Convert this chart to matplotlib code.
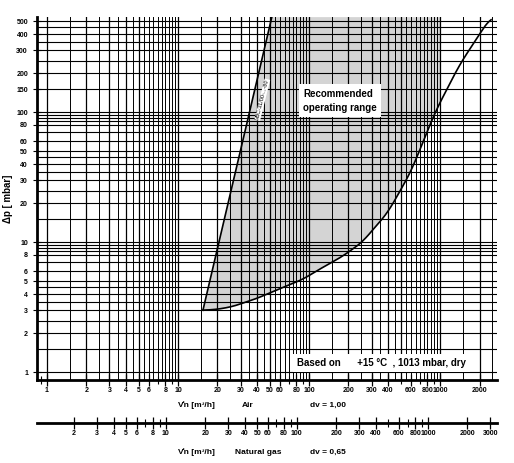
import matplotlib
matplotlib.use("Agg")
import matplotlib.pyplot as plt
import numpy as np

# data
left_x = [15.5, 52]
left_y = [3.0, 540]
curve_x = [15.5, 20, 26, 40, 60, 90, 120, 180, 254, 400, 600, 915, 1400, 2000, 2450]
curve_y = [3.0, 3.05, 3.2, 3.7, 4.4, 5.2, 6.2, 7.8, 10, 17, 35, 100, 230, 400, 540]
fill_right = 1000
y_labels = [1, 2, 3, 4, 5, 6, 8, 10, 20, 30, 40, 50, 60, 80, 100, 150, 200, 300, 400, 500]
air_labels = [1, 2, 3, 4, 5, 6, 8, 10, 20, 30, 40, 50, 60, 80, 100, 200, 300, 400, 600, 800, 1000, 2000]
gas_labels = [2, 3, 4, 5, 6, 8, 10, 20, 30, 40, 50, 60, 80, 100, 200, 300, 400, 600, 800, 1000, 2000, 3000]
dv_gas = 0.65

plt.rcParams['font.family'] = ['Liberation Sans', 'DejaVu Sans']
fig = plt.figure(figsize=(5.14, 4.63), dpi=100)
ax = fig.add_axes([0.072, 0.179, 0.895, 0.784])
ax.set_xscale('log'); ax.set_yscale('log')
ax.set_xlim(0.84, 2720); ax.set_ylim(0.87, 540)

mult_x = [1, 1.5, 2, 2.5, 3, 3.5, 4, 4.5, 5, 5.5, 6, 6.5, 7, 7.5, 8, 8.5, 9, 9.5]
mult_y = [1, 1.5, 2, 2.5, 3, 3.5, 4, 4.5, 5, 6, 7, 8, 8.5, 9, 9.5]
for d in [1, 10, 100, 1000]:
    for m in mult_x:
        v = d * m
        if v <= 2720:
            ax.axvline(v, color='black', lw=0.9 if m in (1, 2, 3, 4, 5) else 0.7, zorder=1)
for d in [1, 10, 100]:
    for m in mult_y:
        v = d * m
        if v <= 540:
            ax.axhline(v, color='black', lw=0.8, zorder=1)

# smooth drawing of the read points (log-space interpolation for rendering only)
lx = np.log10(curve_x); ly = np.log10(curve_y)
sx = np.linspace(lx[0], lx[-1], 300)
sy = np.interp(sx, lx, ly)
k = np.ones(15) / 15
sy_s = np.convolve(np.pad(sy, 7, mode='edge'), k, mode='valid')
cx = 10 ** sx; cy = 10 ** sy_s
mask = cx <= fill_right
px = list(left_x) + [fill_right] + list(cx[mask][::-1])
py = list(left_y) + [left_y[1]] + list(cy[mask][::-1])
ax.fill(px, py, color='#d4d4d4', zorder=0.5, lw=0)
ax.plot(left_x, left_y, color='black', lw=1.2, zorder=3)
ax.plot(cx, cy, color='black', lw=1.2, zorder=3)

ax.text(44, 125, 'VBC-31/00-...-80', rotation=76, fontsize=4, ha='center', va='center',
        bbox=dict(facecolor='white', edgecolor='none', pad=0.3), zorder=4)
ax.text(0.578, 0.77, 'Recommended\noperating range', transform=ax.transAxes, fontsize=7,
        fontweight='bold', va='center', ha='left', linespacing=1.5,
        bbox=dict(facecolor='white', edgecolor='none', pad=3), zorder=4)
ax.text(0.565, 0.047, 'Based on      +15 °C  , 1013 mbar, dry', transform=ax.transAxes, fontsize=7,
        fontweight='bold', va='center', ha='left',
        bbox=dict(facecolor='white', edgecolor='none', pad=3), zorder=4)

for s in ['top', 'right', 'bottom']:
    ax.spines[s].set_visible(False)
ax.spines['left'].set_linewidth(2)
ax.set_yticks(y_labels)
ax.set_yticklabels([str(v) for v in y_labels], fontsize=5, fontweight='bold')
ax.yaxis.set_minor_locator(matplotlib.ticker.NullLocator())
ax.tick_params(axis='y', length=6, width=0.8, direction='inout')
ax.set_ylabel('Δp [ mbar]', fontsize=7, fontweight='bold', labelpad=2)
ax.set_xticks([]); ax.xaxis.set_minor_locator(matplotlib.ticker.NullLocator())

def style_sec(sa, labels):
    sa.spines['bottom'].set_linewidth(2)
    sa.set_xticks(labels)
    sa.set_xticklabels([str(v) for v in labels], fontsize=5, fontweight='bold')
    sa.xaxis.set_minor_locator(matplotlib.ticker.LogLocator(subs=np.arange(1, 10)))
    sa.xaxis.set_minor_formatter(matplotlib.ticker.NullFormatter())
    sa.tick_params(axis='x', which='major', length=8, width=0.9, direction='inout', pad=1)
    sa.tick_params(axis='x', which='minor', length=6, width=0.8, direction='inout')

air = ax.secondary_xaxis(0.0)
style_sec(air, air_labels)
f = np.sqrt(1 / dv_gas)
gas = ax.secondary_xaxis(-0.118, functions=(lambda x: x * f, lambda x: x / f))
style_sec(gas, gas_labels)

fig.text(0.347, 0.122, 'V\u030an [m³/h]', fontsize=6, fontweight='bold', ha='left')
fig.text(0.47, 0.122, 'Air', fontsize=6, fontweight='bold', ha='left')
fig.text(0.603, 0.122, 'dv = 1,00', fontsize=6, fontweight='bold', ha='left')
fig.text(0.347, 0.02, 'V\u030an [m³/h]', fontsize=6, fontweight='bold', ha='left')
fig.text(0.457, 0.02, 'Natural gas', fontsize=6, fontweight='bold', ha='left')
fig.text(0.603, 0.02, 'dv = 0,65', fontsize=6, fontweight='bold', ha='left')

fig.savefig('out.png', dpi=100)
